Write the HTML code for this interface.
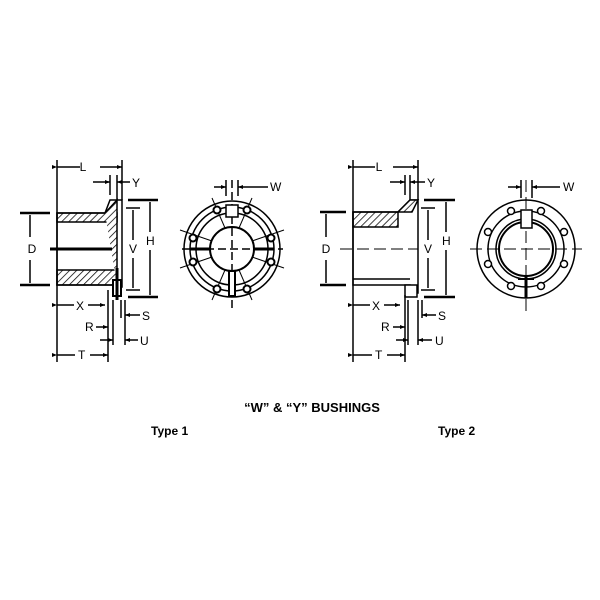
<!DOCTYPE html>
<html><head><style>body{margin:0;background:#fff}svg{display:block}text{font-family:"Liberation Sans",Arial,sans-serif;fill:#000}</style></head><body>
<svg width="600" height="600" viewBox="0 0 600 600" xmlns="http://www.w3.org/2000/svg">
<defs>
<pattern id="h" width="5" height="5" patternUnits="userSpaceOnUse" patternTransform="rotate(45)"><rect width="5" height="5" fill="#fff"/><line x1="0" y1="0" x2="0" y2="5" stroke="#000" stroke-width="1.5"/></pattern>
<marker id="a" markerUnits="userSpaceOnUse" markerWidth="5" markerHeight="4" refX="5" refY="2" orient="auto"><path d="M0,0L5,2L0,4z" fill="#000"/></marker>
</defs>
<g stroke="#000" fill="none" stroke-width="1.5">
<!-- TYPE 1 side -->
<rect x="57" y="213" width="60" height="9" fill="url(#h)"/>
<rect x="57" y="270" width="60" height="15" fill="url(#h)"/>
<path d="M57,213H105L110,200H122V287H117V285H57Z"/>
<path d="M105,213L117,200V285" fill="url(#h)"/>
<line x1="50" y1="249" x2="112" y2="249" stroke-width="3"/>
<rect x="113" y="280" width="8" height="16" fill="#fff" stroke-width="2"/>
<line x1="117" y1="268" x2="117" y2="300" stroke-width="3"/>
<line x1="57" y1="160" x2="57" y2="362"/>
<line x1="122" y1="160" x2="122" y2="200"/>
<line x1="57" y1="167" x2="80" y2="167" marker-start="url(#a)"/><line x1="100" y1="167" x2="122" y2="167" marker-end="url(#a)"/>
<line x1="20" y1="213" x2="50" y2="213" stroke-width="2.5"/><line x1="20" y1="285" x2="50" y2="285" stroke-width="2.5"/>
<line x1="30" y1="215" x2="30" y2="237"/><line x1="30" y1="260" x2="30" y2="283"/>
<line x1="128" y1="200" x2="158" y2="200" stroke-width="2.5"/><line x1="128" y1="297" x2="158" y2="297" stroke-width="2.5"/>
<line x1="150" y1="202" x2="150" y2="232"/><line x1="150" y1="250" x2="150" y2="295"/>
<line x1="126" y1="208" x2="140" y2="208"/><line x1="126" y1="290" x2="140" y2="290"/>
<line x1="133" y1="210" x2="133" y2="240"/><line x1="133" y1="258" x2="133" y2="288"/>
<line x1="110" y1="175" x2="110" y2="195"/><line x1="117" y1="175" x2="117" y2="200"/>
<line x1="93" y1="182" x2="110" y2="182" marker-end="url(#a)"/><line x1="130" y1="182" x2="117" y2="182" marker-end="url(#a)"/>
<line x1="57" y1="305" x2="74" y2="305" marker-start="url(#a)"/><line x1="88" y1="305" x2="105" y2="305" marker-end="url(#a)"/>
<line x1="108" y1="290" x2="108" y2="362"/><line x1="113" y1="300" x2="113" y2="345"/><line x1="121" y1="300" x2="121" y2="318"/><line x1="125" y1="300" x2="125" y2="345"/>
<line x1="140" y1="315" x2="125" y2="315" marker-end="url(#a)"/><line x1="96" y1="327" x2="108" y2="327" marker-end="url(#a)"/>
<line x1="100" y1="340" x2="113" y2="340" marker-end="url(#a)"/><line x1="138" y1="340" x2="125" y2="340" marker-end="url(#a)"/>
<line x1="57" y1="355" x2="75" y2="355" marker-start="url(#a)"/><line x1="90" y1="355" x2="108" y2="355" marker-end="url(#a)"/>
<!-- TYPE 1 front -->
<circle cx="232" cy="249" r="48"/><circle cx="232" cy="249" r="42"/><circle cx="232" cy="249" r="36"/>
<g stroke-width="1">
<line x1="225" y1="228" x2="212" y2="198"/><line x1="239" y1="228" x2="252" y2="198"/>
<line x1="212" y1="241" x2="180" y2="230"/><line x1="252" y1="241" x2="284" y2="230"/>
<line x1="212" y1="257" x2="180" y2="268"/><line x1="252" y1="257" x2="284" y2="268"/>
<line x1="225" y1="270" x2="212" y2="300"/><line x1="239" y1="270" x2="252" y2="300"/>
</g>
<circle cx="232" cy="249" r="22" stroke-width="2" fill="#fff"/>
<line x1="182" y1="249" x2="283" y2="249" stroke-dasharray="8,4"/><line x1="232" y1="180" x2="232" y2="310" stroke-dasharray="8,4"/>
<line x1="190" y1="249" x2="210" y2="249" stroke-width="3"/><line x1="254" y1="249" x2="274" y2="249" stroke-width="3"/>
<rect x="226" y="205" width="12" height="12" fill="#fff"/><rect x="229" y="271" width="6" height="25" fill="#fff" stroke-width="2"/>
<g fill="#fff" stroke-width="2"><circle cx="217" cy="210" r="3.5"/><circle cx="247" cy="210" r="3.5"/><circle cx="193" cy="238" r="3.5"/><circle cx="271" cy="238" r="3.5"/><circle cx="193" cy="262" r="3.5"/><circle cx="271" cy="262" r="3.5"/><circle cx="217" cy="289" r="3.5"/><circle cx="247" cy="289" r="3.5"/></g>
<line x1="226" y1="180" x2="226" y2="196"/><line x1="238" y1="180" x2="238" y2="196"/>
<line x1="214" y1="187" x2="226" y2="187" marker-end="url(#a)"/><line x1="268" y1="187" x2="238" y2="187" marker-end="url(#a)"/>
<!-- TYPE 2 side -->
<rect x="353" y="212" width="45" height="15" fill="url(#h)"/>
<path d="M353,212H398L410,200H418V293H410V285H353Z"/>
<path d="M398,212L410,200H418L412,212Z" fill="url(#h)"/>
<line x1="353" y1="279" x2="410" y2="279"/>
<rect x="405" y="285" width="12" height="12" fill="#fff"/>
<line x1="340" y1="249" x2="418" y2="249" stroke-dasharray="12,5" stroke-width="1"/>
<line x1="353" y1="160" x2="353" y2="362"/><line x1="418" y1="160" x2="418" y2="200"/>
<line x1="353" y1="167" x2="375" y2="167" marker-start="url(#a)"/><line x1="393" y1="167" x2="418" y2="167" marker-end="url(#a)"/>
<line x1="320" y1="212" x2="346" y2="212" stroke-width="2.5"/><line x1="320" y1="285" x2="346" y2="285" stroke-width="2.5"/>
<line x1="326" y1="214" x2="326" y2="237"/><line x1="326" y1="260" x2="326" y2="283"/>
<line x1="424" y1="200" x2="455" y2="200" stroke-width="2.5"/><line x1="424" y1="297" x2="455" y2="297" stroke-width="2.5"/>
<line x1="446" y1="202" x2="446" y2="232"/><line x1="446" y1="250" x2="446" y2="295"/>
<line x1="421" y1="208" x2="435" y2="208"/><line x1="421" y1="290" x2="435" y2="290"/>
<line x1="428" y1="210" x2="428" y2="240"/><line x1="428" y1="258" x2="428" y2="288"/>
<line x1="405" y1="175" x2="405" y2="195"/><line x1="410" y1="175" x2="410" y2="200"/>
<line x1="390" y1="182" x2="405" y2="182" marker-end="url(#a)"/><line x1="425" y1="182" x2="410" y2="182" marker-end="url(#a)"/>
<line x1="353" y1="305" x2="370" y2="305" marker-start="url(#a)"/><line x1="384" y1="305" x2="400" y2="305" marker-end="url(#a)"/>
<line x1="405" y1="295" x2="405" y2="362"/><line x1="408" y1="300" x2="408" y2="345"/><line x1="418" y1="300" x2="418" y2="345"/><line x1="422" y1="300" x2="422" y2="318"/>
<line x1="436" y1="315" x2="422" y2="315" marker-end="url(#a)"/><line x1="393" y1="327" x2="405" y2="327" marker-end="url(#a)"/>
<line x1="396" y1="340" x2="408" y2="340" marker-end="url(#a)"/><line x1="432" y1="340" x2="418" y2="340" marker-end="url(#a)"/>
<line x1="353" y1="355" x2="372" y2="355" marker-start="url(#a)"/><line x1="387" y1="355" x2="405" y2="355" marker-end="url(#a)"/>
<!-- TYPE 2 front -->
<circle cx="526" cy="249" r="49"/><circle cx="526" cy="249" r="38"/><circle cx="526" cy="249" r="30"/><circle cx="526" cy="249" r="27" stroke-width="2"/>
<line x1="470" y1="249" x2="582" y2="249" stroke-dasharray="12,5" stroke-width="1"/><line x1="526" y1="180" x2="526" y2="312" stroke-dasharray="12,5" stroke-width="1"/>
<rect x="521" y="210" width="11" height="18" fill="#fff"/>
<line x1="526" y1="276" x2="526" y2="298" stroke-width="3"/><line x1="518" y1="279" x2="534" y2="279" stroke-width="2"/>
<g fill="#fff"><circle cx="511" cy="211" r="3.5"/><circle cx="541" cy="211" r="3.5"/><circle cx="488" cy="232" r="3.5"/><circle cx="564" cy="232" r="3.5"/><circle cx="488" cy="264" r="3.5"/><circle cx="564" cy="264" r="3.5"/><circle cx="511" cy="286" r="3.5"/><circle cx="541" cy="286" r="3.5"/></g>
<line x1="521" y1="180" x2="521" y2="198"/><line x1="532" y1="180" x2="532" y2="198"/>
<line x1="508" y1="187" x2="521" y2="187" marker-end="url(#a)"/><line x1="560" y1="187" x2="532" y2="187" marker-end="url(#a)"/>
</g>
<g font-size="12">
<text x="83" y="171" text-anchor="middle">L</text><text x="132" y="187">Y</text>
<text x="32" y="253" text-anchor="middle">D</text><text x="146" y="245">H</text><text x="129" y="253">V</text>
<text x="76" y="310">X</text><text x="142" y="320">S</text><text x="85" y="331">R</text><text x="140" y="345">U</text><text x="78" y="359">T</text>
<text x="270" y="191">W</text>
<text x="379" y="171" text-anchor="middle">L</text><text x="427" y="187">Y</text>
<text x="326" y="253" text-anchor="middle">D</text><text x="442" y="245">H</text><text x="424" y="253">V</text>
<text x="372" y="310">X</text><text x="438" y="320">S</text><text x="381" y="331">R</text><text x="435" y="345">U</text><text x="375" y="359">T</text>
<text x="563" y="191">W</text>
</g>
<text x="312" y="412" font-size="13" font-weight="bold" text-anchor="middle">“W” &amp; “Y” BUSHINGS</text>
<text x="151" y="435" font-size="12" font-weight="bold">Type 1</text>
<text x="438" y="435" font-size="12" font-weight="bold">Type 2</text>
</svg>
</body></html>
